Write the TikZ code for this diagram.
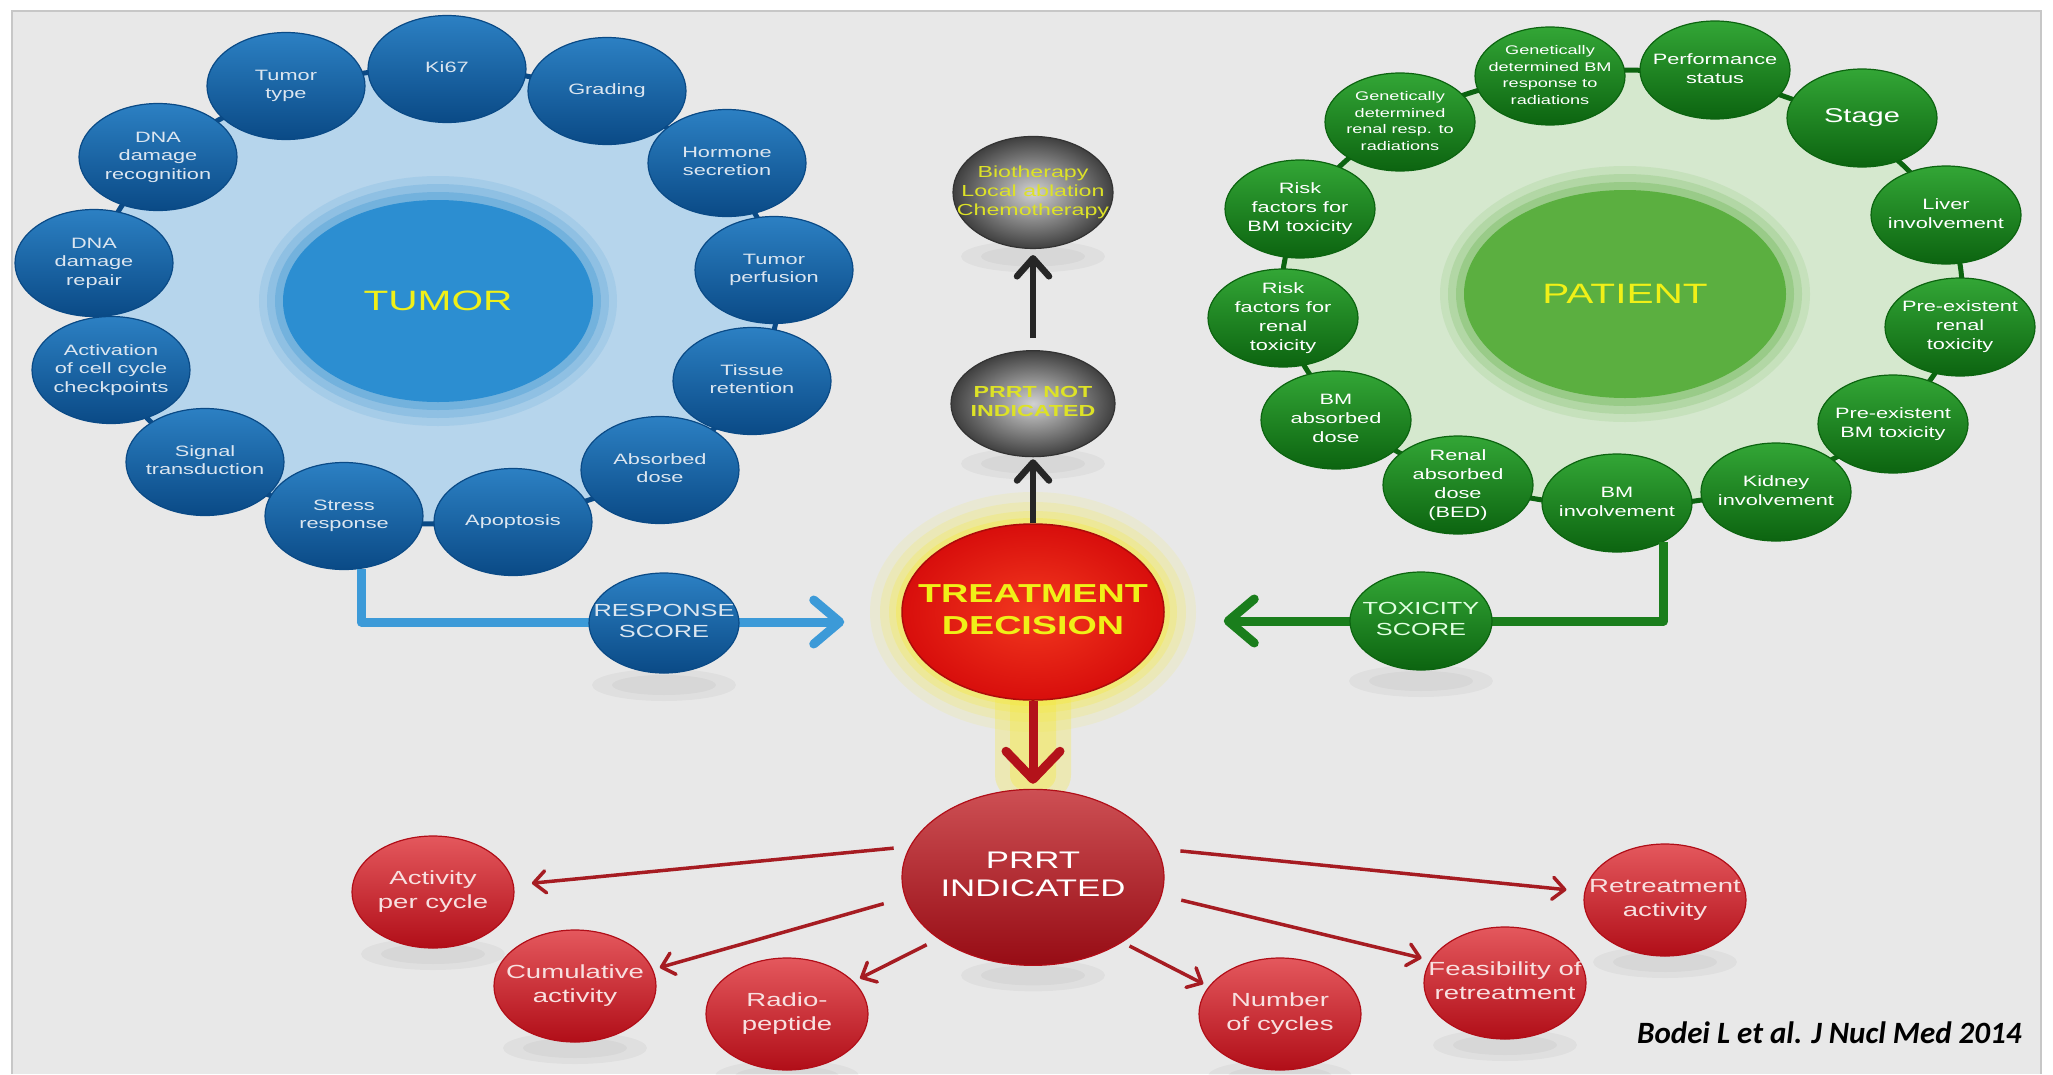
\documentclass[tikz,border=0pt]{standalone}
\usepackage{fontspec}
\setmainfont{Liberation Sans}[FakeStretch=1.45]
\newfontfamily\citefont{Carlito}
\usepackage{xcolor}
\usetikzlibrary{positioning, shapes.geometric, arrows.meta}

\pgfdeclarelayer{back}
\pgfdeclarelayer{shade}
\pgfsetlayers{back,shade,main}

\definecolor{bgray}{HTML}{E8E8E8}
\definecolor{tbluetop}{HTML}{2C80C3}
\definecolor{tbluebot}{HTML}{0A4A86}
\definecolor{tring}{HTML}{B6D5EC}
\definecolor{tcore}{HTML}{2C8ED1}
\definecolor{ttext}{HTML}{DCE6F0}
\definecolor{pgreentop}{HTML}{33A636}
\definecolor{pgreenbot}{HTML}{0C6410}
\definecolor{pring}{HTML}{D5E8CE}
\definecolor{pcore}{HTML}{5BAF40}
\definecolor{rtop}{HTML}{E4585D}
\definecolor{rbot}{HTML}{B10E18}
\definecolor{rtext}{HTML}{F8E0E0}
\definecolor{tdred}{HTML}{D80E0C}
\definecolor{tdin}{HTML}{F2381E}
\definecolor{glowy}{HTML}{F6EA3C}
\definecolor{ytext}{HTML}{F0F018}
\definecolor{greytext}{HTML}{DDE227}
\definecolor{arrblue}{HTML}{3C9AD8}
\definecolor{arrgreen}{HTML}{1A7E1C}
\definecolor{arrred}{HTML}{B3121A}
\definecolor{thinred}{HTML}{A61C22}

% centred lines of text that do not widen the bubble
\newcommand{\bubtxt}[1]{\makebox[0pt]{\begin{tabular}{@{}c@{}}#1\end{tabular}}}

\begin{document}
\begin{tikzpicture}[
      x=1pt, y=-1pt,
      % Styling bubbles
      bub/.style={ellipse, inner sep=-14pt, line width=1.2pt},
      tbub/.style={bub, minimum width=158pt, minimum height=107pt,
        draw=tbluebot, top color=tbluetop, bottom color=tbluebot,
        text=ttext, font=\fontsize{15}{18.5}\selectfont},
      pbub/.style={bub, minimum width=150pt, minimum height=98pt,
        draw=pgreenbot, top color=pgreentop, bottom color=pgreenbot,
        text=white, font=\fontsize{15}{19}\selectfont},
      psmall/.style={pbub, font=\fontsize{12.5}{16.5}\selectfont},
      rbub/.style={bub, minimum width=162pt, minimum height=112pt,
        draw=rbot, top color=rtop, bottom color=rbot,
        text=rtext, font=\fontsize{19}{23.5}\selectfont},
      rbig/.style={rbub, minimum width=262pt, minimum height=176pt,
        top color=rtop!90!black, bottom color=rbot!85!black,
        text=white, font=\fontsize{24}{28}\selectfont},
      greybub/.style={bub, minimum width=160pt, minimum height=112pt,
        draw=black!80, inner color=black!18, outer color=black!75,
        text=greytext, font=\fontsize{16}{19}\selectfont},
      tdnode/.style={bub, minimum width=262pt, minimum height=176pt,
        draw=tdred!80!black, line width=1.5pt, inner color=tdin, outer color=tdred,
        text=ytext, font=\bfseries\fontsize{26}{32}\selectfont},
      core/.style={ellipse, inner sep=0pt, text=ytext, font=\fontsize{28}{32}\selectfont},
      % Styling arrows
      bluearr/.style={arrblue, line width=9pt, line join=round,
        -{Straight Barb[length=26pt, width=44pt, round]}},
      greenarr/.style={arrgreen, line width=9pt, line join=round,
        -{Straight Barb[length=26pt, width=44pt, round]}},
      redarr/.style={arrred, line width=9pt,
        -{Straight Barb[length=28pt, width=54pt, round]}},
      darr/.style={black!85, line width=6.5pt,
        -{Straight Barb[length=18pt, width=32pt, round]}},
      thinarr/.style={thinred, line width=3.5pt,
        -{Straight Barb[length=12pt, width=22pt, round]}}
    ]
    \useasboundingbox (0,0) rectangle (2053,1074);

    % Page, frame and the two rings
    \begin{pgfonlayer}{back}
      \fill[white] (0,0) rectangle (2053,1074);
      \fill[bgray] (12,11) rectangle (2041,1074);
      \draw[black!22, line width=1.5pt] (12,1074) -- (12,11) -- (2041,11) -- (2041,1074);
      \fill[tring] (436,296) ellipse (342 and 228);
      \draw[tbluebot, line width=5pt] (436,296) ellipse (342 and 228);
      \fill[pring] (1622,288) ellipse (340 and 218);
      \draw[pgreenbot, line width=5pt] (1622,288) ellipse (340 and 218);
    \end{pgfonlayer}

    % Tumor ring
    \node (tumor) [core, fill=tcore, minimum width=310pt, minimum height=202pt] at (438,301) {TUMOR};
    \node (ttype) [tbub] at (286,86) {\bubtxt{Tumor\\type}};
    \node (ki67) [tbub] at (447,69) {\bubtxt{Ki67}};
    \node (grad) [tbub] at (607,91) {\bubtxt{Grading}};
    \node (horm) [tbub] at (727,163) {\bubtxt{Hormone\\secretion}};
    \node (perf) [tbub] at (774,270) {\bubtxt{Tumor\\perfusion}};
    \node (tiss) [tbub] at (752,381) {\bubtxt{Tissue\\retention}};
    \node (tdose) [tbub] at (660,470) {\bubtxt{Absorbed\\dose}};
    \node (apop) [tbub] at (513,522) {\bubtxt{Apoptosis}};
    \node (stress) [tbub] at (344,516) {\bubtxt{Stress\\response}};
    \node (signal) [tbub] at (205,462) {\bubtxt{Signal\\transduction}};
    \node (checkp) [tbub] at (111,370) {\bubtxt{Activation\\of cell cycle\\checkpoints}};
    \node (dnarep) [tbub] at (94,263) {\bubtxt{DNA\\damage\\repair}};
    \node (dnarec) [tbub] at (158,157) {\bubtxt{DNA\\damage\\recognition}};

    % Patient ring
    \node (patient) [core, fill=pcore, minimum width=322pt, minimum height=208pt] at (1625,294) {PATIENT};
    \node (genbm) [psmall] at (1550,76) {\bubtxt{Genetically\\determined BM\\response to\\radiations}};
    \node (perfst) [pbub] at (1715,70) {\bubtxt{Performance\\status}};
    \node (stage) [pbub, font=\fontsize{20}{24}\selectfont] at (1862,118) {\bubtxt{Stage}};
    \node (liver) [pbub] at (1946,215) {\bubtxt{Liver\\involvement}};
    \node (prerenal) [pbub] at (1960,327) {\bubtxt{Pre-existent\\renal\\toxicity}};
    \node (prebm) [pbub] at (1893,424) {\bubtxt{Pre-existent\\BM toxicity}};
    \node (kidney) [pbub] at (1776,492) {\bubtxt{Kidney\\involvement}};
    \node (bminv) [pbub] at (1617,503) {\bubtxt{BM\\involvement}};
    \node (renbed) [pbub] at (1458,485) {\bubtxt{Renal\\absorbed\\dose\\(BED)}};
    \node (bmdose) [pbub] at (1336,420) {\bubtxt{BM\\absorbed\\dose}};
    \node (riskren) [pbub] at (1283,318) {\bubtxt{Risk\\factors for\\renal\\toxicity}};
    \node (riskbm) [pbub] at (1300,209) {\bubtxt{Risk\\factors for\\BM toxicity}};
    \node (genren) [psmall] at (1400,122) {\bubtxt{Genetically\\determined\\renal resp. to\\radiations}};

    % Centre column
    \node (td) [tdnode] at (1033,612) {\bubtxt{TREATMENT\\DECISION}};
    \node (notind) [greybub, above=66pt of td, minimum width=164pt, minimum height=106pt,
      font=\bfseries\fontsize{16}{19}\selectfont] {\bubtxt{PRRT NOT\\INDICATED}};
    \node (bio) [greybub, above=101pt of notind] {\bubtxt{Biotherapy\\Local ablation\\Chemotherapy}};
    \node (prrt) [rbig, below=88pt of td] {\bubtxt{PRRT\\INDICATED}};

    % Scores feeding the decision
    \draw[bluearr, shorten >=57pt] (stress.-72) |- ([yshift=-10pt]td.west);
    \draw[greenarr, shorten >=59pt] (bminv.-40) |- ([yshift=-9pt]td.east);
    \node (resp) [bub, minimum width=150pt, minimum height=100pt, draw=tbluebot,
      top color=tbluetop, bottom color=tbluebot, text=ttext,
      font=\fontsize{17.5}{21}\selectfont] at (664,623) {\bubtxt{RESPONSE\\SCORE}};
    \node (tox) [bub, minimum width=142pt, minimum height=98pt, draw=pgreenbot,
      top color=pgreentop, bottom color=pgreenbot, text=white!88!green,
      font=\fontsize{17.5}{21}\selectfont] at (1421,621) {\bubtxt{TOXICITY\\SCORE}};

    % Decision arrows
    \draw[darr, shorten >=2pt] (td) -- (notind);
    \draw[darr, shorten <=12pt, shorten >=6pt] (notind) -- (bio);
    \draw[redarr, shorten >=5pt] (td) -- (prrt);

    % PRRT parameters
    \node (act) [rbub] at (433,892) {\bubtxt{Activity\\per cycle}};
    \node (cum) [rbub] at (575,986) {\bubtxt{Cumulative\\activity}};
    \node (radio) [rbub] at (787,1014) {\bubtxt{Radio-\\peptide}};
    \node (ncyc) [rbub] at (1280,1014) {\bubtxt{Number\\of cycles}};
    \node (feas) [rbub] at (1505,983) {\bubtxt{Feasibility of\\retreatment}};
    \node (retr) [rbub] at (1665,900) {\bubtxt{Retreatment\\activity}};

    \draw[thinarr, shorten <=16pt, shorten >=18pt] (prrt.166) -- (act.5);
    \draw[thinarr, shorten <=22pt, shorten >=7pt] (prrt.189) -- (cum.12);
    \draw[thinarr, shorten <=13pt, shorten >=7pt] (prrt.213) -- (radio.26);
    \draw[thinarr, shorten <=8pt, shorten >=6pt] (prrt.-36) -- (ncyc.159);
    \draw[thinarr, shorten <=20pt, shorten >=9pt] (prrt.-8) -- (feas.163);
    \draw[thinarr, shorten <=23pt, shorten >=18pt] (prrt.13.5) -- (retr.174);

    % Citation
    \node (cite) [anchor=east, font=\citefont\bfseries\itshape\fontsize{31}{36}\selectfont]
      at (2025,1033) {Bodei L et al. J Nucl Med 2014};

    % Glows and shadows
    \begin{pgfonlayer}{shade}
      \foreach \g/\o in {24/.12, 16/.18, 8/.28}
        \fill[tcore, opacity=\o] (tumor.center) ellipse ({155+\g} and {101+\g});
      \foreach \g/\o in {24/.12, 16/.18, 8/.28}
        \fill[pcore, opacity=\o] (patient.center) ellipse ({161+\g} and {104+\g});
      \foreach \g/\o in {32/.12, 22/.18, 13/.25, 6/.35}
        \fill[glowy, opacity=\o] (td.center) ellipse ({131+\g} and {88+\g});
      \fill[glowy, opacity=.3, rounded corners=25pt] (995,660) rectangle (1071,800);
      \fill[glowy, opacity=.35, rounded corners=15pt] (1010,680) rectangle (1056,790);
      \foreach \n/\d in {act/62pt, cum/62pt, radio/62pt, ncyc/62pt, feas/62pt, retr/62pt,
                         resp/62pt, tox/60pt, prrt/98pt, bio/64pt, notind/60pt}
        {
        \fill[black, opacity=.035] ([yshift=-\d]\n.center) ellipse (72 and 16);
        \fill[black, opacity=.035] ([yshift=-\d]\n.center) ellipse (52 and 10);
        }
    \end{pgfonlayer}

  \end{tikzpicture}
\end{document}
